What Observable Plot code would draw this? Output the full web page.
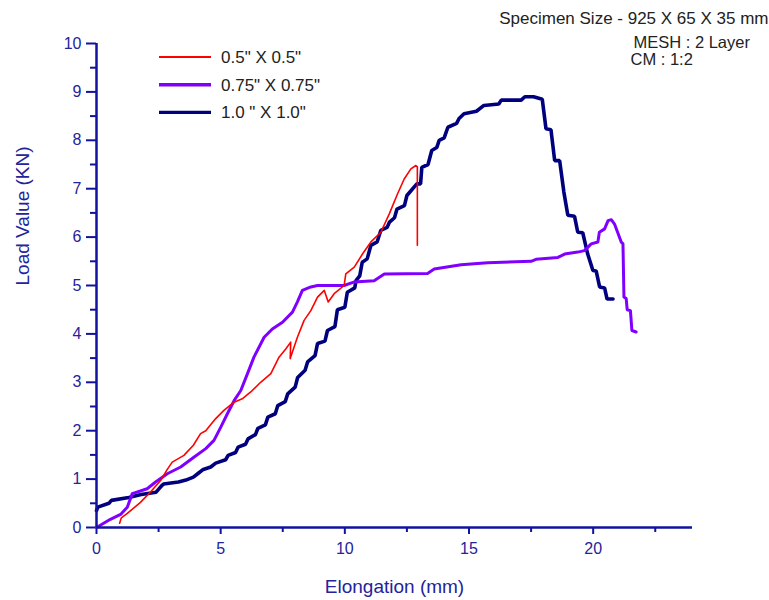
<!DOCTYPE html>
<html><head><meta charset="utf-8">
<script src="https://cdn.jsdelivr.net/npm/d3@7"></script>
<script src="https://cdn.jsdelivr.net/npm/@observablehq/plot@0.6"></script>
<style>body{margin:0;background:#fff;}</style>
</head><body><div id="chart"></div>
<script>
const seriesNames = ['0.5" X 0.5"', '0.75" X 0.75"', '1.0 " X 1.0"'];
const seriesColors = ["#ff0000", "#8000ff", "#00007f"];
const seriesWidths = [1.6, 3, 3.6];

const redX = [0.93,1.0,1.24,1.77,2.2,2.58,2.85,3.05,3.52,3.9,4.19,4.4,4.8,5.13,5.54,5.87,6.21,6.61,7.02,7.35,7.62,7.82,7.8,8.09,8.36,8.63,8.9,9.17,9.33,9.57,9.97,10.04,10.38,10.71,11.05,11.45,11.79,12.12,12.39,12.66,12.86,12.92,12.92];
const redY = [0.09,0.2,0.29,0.52,0.75,0.97,1.2,1.35,1.49,1.7,1.94,2.0,2.25,2.42,2.59,2.66,2.8,3.0,3.18,3.52,3.69,3.83,3.49,3.93,4.28,4.48,4.76,4.9,4.66,4.83,5.0,5.24,5.38,5.65,5.9,6.1,6.48,6.89,7.2,7.41,7.48,7.45,5.83];

const purpleX = [0,0.56,0.97,1.24,1.44,2.04,2.38,2.85,3.39,3.92,4.4,4.73,5.0,5.27,5.54,5.81,6.08,6.34,6.75,7.08,7.49,7.89,8.09,8.29,8.63,8.9,9.97,10.36,11.18,11.59,13.33,13.6,14.68,15.75,17.5,17.7,18.58,18.85,19.38,19.65,19.92,20.19,20.25,20.46,20.6,20.73,20.86,21.13,21.2,21.24,21.33,21.37,21.5,21.56,21.73];
const purpleY = [0,0.17,0.27,0.42,0.7,0.8,0.94,1.11,1.25,1.45,1.63,1.8,2.07,2.35,2.62,2.83,3.18,3.52,3.93,4.1,4.24,4.45,4.66,4.9,4.97,5.0,5.0,5.07,5.1,5.24,5.25,5.34,5.43,5.47,5.5,5.54,5.58,5.65,5.69,5.72,5.86,5.9,6.1,6.17,6.34,6.36,6.27,5.9,5.86,4.76,4.73,4.5,4.48,4.07,4.04];

const navyX = [0,0.05,0.5,0.6,1.3,1.8,2.4,2.6,2.7,3.3,3.6,3.9,4.1,4.3,4.6,4.8,5.2,5.3,5.6,5.7,6.0,6.1,6.4,6.5,6.8,6.9,7.2,7.3,7.6,7.7,8.0,8.1,8.4,8.5,8.8,8.9,9.2,9.3,9.6,9.7,10.0,10.1,10.4,10.45,10.6,10.7,10.9,11.05,11.3,11.45,11.7,11.8,12.0,12.1,12.4,12.5,12.9,13.05,13.1,13.35,13.5,13.7,13.8,14.0,14.15,14.5,14.6,14.8,15.3,15.6,16.2,16.3,17.1,17.25,17.6,17.95,18.1,18.3,18.45,18.65,18.82,18.98,19.25,19.38,19.58,19.78,19.99,20.12,20.26,20.46,20.56,20.8];
const navyY = [0.35,0.42,0.5,0.56,0.62,0.68,0.73,0.85,0.9,0.94,0.98,1.04,1.12,1.2,1.25,1.33,1.4,1.49,1.55,1.66,1.72,1.83,1.92,2.05,2.12,2.28,2.35,2.52,2.6,2.76,2.9,3.1,3.25,3.42,3.55,3.8,3.85,4.07,4.15,4.5,4.55,4.86,4.95,5.1,5.2,5.48,5.55,5.83,5.9,6.14,6.2,6.31,6.4,6.58,6.65,6.86,7.1,7.1,7.44,7.5,7.79,7.85,8.0,8.05,8.27,8.35,8.45,8.55,8.6,8.72,8.75,8.83,8.83,8.9,8.9,8.85,8.24,8.22,7.58,7.58,6.93,6.45,6.43,6.1,6.09,5.65,5.31,5.3,4.97,4.95,4.72,4.72];

const xMajor = [0,5,10,15,20];
const xMinor = [2.5,7.5,12.5,17.5,22.5];
const yMajor = [0,1,2,3,4,5,6,7,8,9,10];
const yMinor = [0.5,1.5,2.5,3.5,4.5,5.5,6.5,7.5,8.5,9.5];
const xTitle = "Elongation (mm)";
const yTitle = "Load Value (KN)";
const noteTop = "Specimen Size - 925 X 65 X 35 mm";
const noteMesh = "MESH : 2 Layer";
const noteCm = "CM : 1:2";

const toRows = (xs, ys) => xs.map((x, i) => ({x, y: ys[i]}));
const redData = toRows(redX, redY);
const purpleData = toRows(purpleX, purpleY);
const navyData = toRows(navyX, navyY);

const axisColor = "#1212a0";
const labelColor = "#23239c";
const font = "'Liberation Sans', Arial, Helvetica, sans-serif";

const plot = Plot.plot({
  width: 769, height: 600,
  marginLeft: 96, marginRight: 77, marginTop: 43, marginBottom: 73,
  x: {domain: [0, 24]},
  y: {domain: [0, 10]},
  style: {fontFamily: font, background: "#fff", overflow: "visible"},
  marks: [
    Plot.axisX({ticks: xMinor, tickSize: 5, tickFormat: () => "", stroke: axisColor, strokeWidth: 2, label: null}),
    Plot.axisX({ticks: xMajor, tickSize: 7, tickPadding: 8, stroke: axisColor, strokeWidth: 2, fill: labelColor, fontSize: 16, label: null}),
    Plot.axisY({ticks: yMinor, tickSize: 6, tickFormat: () => "", stroke: axisColor, strokeWidth: 2, label: null}),
    Plot.axisY({ticks: yMajor, tickSize: 10, tickPadding: 5, stroke: axisColor, strokeWidth: 2, fill: labelColor, fontSize: 16, label: null}),
    Plot.line(navyData, {x: "x", y: "y", stroke: seriesColors[2], strokeWidth: seriesWidths[2], strokeLinejoin: "miter"}),
    Plot.line(purpleData, {x: "x", y: "y", stroke: seriesColors[1], strokeWidth: seriesWidths[1]}),
    Plot.line(redData, {x: "x", y: "y", stroke: seriesColors[0], strokeWidth: seriesWidths[0]}),
    Plot.ruleX([0], {stroke: axisColor, strokeWidth: 2.5}),
    Plot.ruleY([0], {stroke: axisColor, strokeWidth: 2.5}),
    Plot.text([xTitle], {text: d => d, frameAnchor: "bottom", dy: 59, lineAnchor: "middle", fontSize: 19, fill: labelColor}),
    Plot.text([yTitle], {text: d => d, frameAnchor: "left", dx: -74, rotate: -90, lineAnchor: "middle", fontSize: 19, fill: labelColor}),
    Plot.text([noteTop], {text: d => d, frameAnchor: "top-right", textAnchor: "end", lineAnchor: "middle", dx: 76, dy: -25, fontSize: 17, fill: "#222"}),
    Plot.text([noteMesh], {text: d => d, frameAnchor: "top-left", textAnchor: "start", lineAnchor: "middle", dx: 537, dy: -1, fontSize: 16.5, fill: "#222"}),
    Plot.text([noteCm], {text: d => d, frameAnchor: "top-left", textAnchor: "start", lineAnchor: "middle", dx: 534, dy: 16.5, fontSize: 16.5, fill: "#222"})
  ]
});

document.getElementById("chart").appendChild(plot);

// legend drawn inside the frame, top-left
const svg = d3.select(plot);
const lg = svg.append("g").attr("font-family", font).attr("font-size", 17).attr("text-anchor", "start");
seriesNames.forEach((name, i) => {
  const yy = 57 + i * 27.7;
  lg.append("line").attr("x1", 159).attr("x2", 211).attr("y1", yy).attr("y2", yy)
    .attr("stroke", seriesColors[i]).attr("stroke-width", i === 0 ? 2.2 : 3.4);
  lg.append("text").attr("x", 221).attr("y", yy).attr("dy", "0.35em").attr("text-anchor", "start").attr("fill", "#222").text(name);
});
</script>
</body></html>
